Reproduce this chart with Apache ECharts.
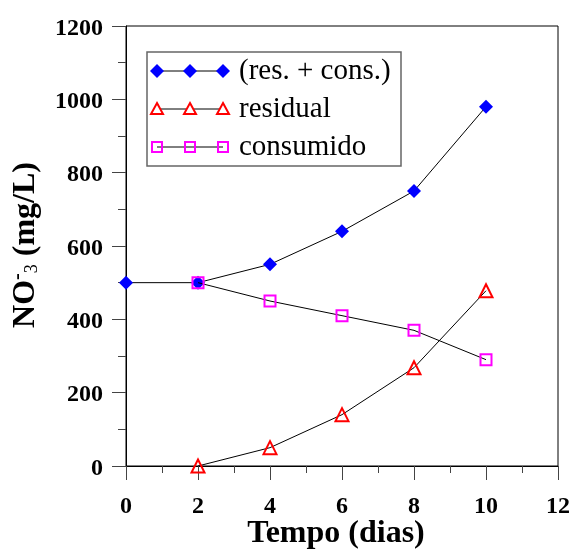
<!DOCTYPE html>
<html>
<head>
<meta charset="utf-8">
<script src="https://cdn.jsdelivr.net/npm/echarts@6/dist/echarts.min.js"></script>
<style>
  html, body { margin: 0; padding: 0; background: #fff; }
  #chart { width: 571px; height: 549px; }
</style>
</head>
<body>
<div id="chart"></div>
<script>
// data
var dias_total = [0, 2, 4, 6, 8, 10];
var total = [500, 500, 550, 640, 750, 980];
var dias = [2, 4, 6, 8, 10];
var residual = [0, 50, 140, 268, 478];
var consumido = [500, 450, 410, 370, 290];
var xTicks = [0, 2, 4, 6, 8, 10, 12];
var yTicks = [0, 200, 400, 600, 800, 1000, 1200];

var serif = '"Liberation Serif", "DejaVu Serif", serif';

function pairs(xs, ys) {
	return xs.map(function (x, i) { return [x, ys[i]]; });
}

var chart = echarts.init(document.getElementById('chart'), null, { renderer: 'canvas' });

// legend drawn by hand: three markers on each row, like the original
var legendRows = [
	{ y: 71, text: '(res. + cons.)', kind: 'diamond' },
	{ y: 109, text: 'residual', kind: 'triangle' },
	{ y: 147, text: 'consumido', kind: 'square' }
];
var markX = [157, 190, 223];

function legendMarker(kind, x, y) {
	if (kind == 'diamond') {
		return { type: 'polygon', shape: { points: [[x, y - 7], [x + 7, y], [x, y + 7], [x - 7, y]] },
			style: { fill: '#0000ff' }, z: 102 };
	}
	if (kind == 'triangle') {
		return { type: 'polygon', shape: { points: [[x, y - 6], [x + 6, y + 5], [x - 6, y + 5]] },
			style: { fill: '#fff', stroke: '#ff0000', lineWidth: 2 }, z: 102 };
	}
	return { type: 'rect', shape: { x: x - 5, y: y - 5, width: 10, height: 10 },
		style: { fill: 'none', stroke: '#ff00ff', lineWidth: 2 }, z: 102 };
}

var graphics = [
	{ type: 'rect', shape: { x: 147, y: 52, width: 254, height: 114 },
		style: { fill: '#fff', stroke: '#666', lineWidth: 1.5 }, z: 100 }
];
legendRows.forEach(function (r) {
	graphics.push({ type: 'line', shape: { x1: markX[0], y1: r.y, x2: markX[2], y2: r.y },
		style: { stroke: '#000', lineWidth: 1 }, z: 101 });
	markX.forEach(function (x) { graphics.push(legendMarker(r.kind, x, r.y)); });
	graphics.push({ type: 'text', x: 239, y: r.y,
		style: { text: r.text, font: '29px ' + serif, fill: '#000', textVerticalAlign: 'middle' }, z: 102 });
});

// y axis title with NO3- sub/superscript
graphics.push({
	type: 'text', x: 26, y: 245, rotation: Math.PI / 2, z: 102,
	style: {
		text: '{a|NO}{sup|-}{sub|3}{a| (mg/L)}',
		textAlign: 'center', textVerticalAlign: 'middle',
		rich: {
			a: { fontFamily: serif, fontSize: 32, fontWeight: 'bold', fill: '#000' },
			sup: { fontFamily: serif, fontSize: 20, fontWeight: 'bold', fill: '#000', padding: [0, 0, 16, 0] },
			sub: { fontFamily: serif, fontSize: 18, fill: '#000', padding: [12, 0, 0, 0] }
		}
	}
});

var option = {
	animation: false,
	backgroundColor: '#fff',
	grid: { left: 126, right: 13, top: 26, bottom: 83, outerBoundsMode: 'none', containLabel: false,
		show: true, borderColor: '#000', borderWidth: 1 },
	xAxis: {
		type: 'value', min: 0, max: 12, interval: 2,
		name: 'Tempo (dias)', nameLocation: 'middle', nameGap: 52, nameMoveOverlap: false,
		nameTextStyle: { fontFamily: serif, fontSize: 32, fontWeight: 'bold', color: '#000', padding: [0, 12, 0, 0] },
		axisLine: { lineStyle: { color: '#000', width: 1 } },
		axisTick: { length: 14, lineStyle: { color: '#444' } },
		minorTick: { show: true, splitNumber: 2, length: 7, lineStyle: { color: '#444' } },
		splitLine: { show: false },
		axisLabel: { margin: 29, fontFamily: serif, fontSize: 24, fontWeight: 'bold', color: '#000',
			formatter: function (v) { return xTicks.indexOf(v) >= 0 ? String(v) : ''; } }
	},
	yAxis: {
		type: 'value', min: 0, max: 1200, interval: 200,
		axisLine: { show: true, lineStyle: { color: '#000', width: 1 } },
		axisTick: { show: true, length: 14, lineStyle: { color: '#444' } },
		minorTick: { show: true, splitNumber: 2, length: 8, lineStyle: { color: '#444' } },
		splitLine: { show: false },
		axisLabel: { margin: 23, color: '#000',
			rich: { v: { fontFamily: serif, fontSize: 24, fontWeight: 'bold', color: '#000', padding: [5, 0, 0, 0] } },
			formatter: function (v) { return yTicks.indexOf(v) >= 0 ? '{v|' + v + '}' : ''; } }
	},
	graphic: graphics,
	series: [
		{
			name: '(res. + cons.)', type: 'line', data: pairs(dias_total, total),
			symbol: 'diamond', symbolSize: 14,
			lineStyle: { color: '#000', width: 1 },
			itemStyle: { color: '#0000ff' }, z: 3
		},
		{
			name: 'residual', type: 'line', data: pairs(dias, residual),
			symbol: 'triangle', symbolSize: 13,
			lineStyle: { color: '#000', width: 1 },
			itemStyle: { color: 'rgba(255,255,255,0)', borderColor: '#ff0000', borderWidth: 2 }, z: 4
		},
		{
			name: 'consumido', type: 'line', data: pairs(dias, consumido),
			symbol: 'rect', symbolSize: 11,
			lineStyle: { color: '#000', width: 1 },
			itemStyle: { color: 'rgba(255,255,255,0)', borderColor: '#ff00ff', borderWidth: 2 }, z: 5
		}
	]
};

chart.setOption(option);
</script>
</body>
</html>
